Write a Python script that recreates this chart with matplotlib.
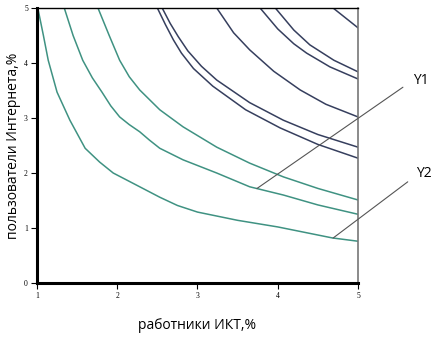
import numpy as np
import matplotlib.pyplot as plt

# curves (x = работники ИКТ, y = пользователи Интернета)
x1 = [1.01, 1.08, 1.14, 1.25, 1.41, 1.60, 1.78, 1.95, 2.28, 2.53, 2.75, 3.0, 3.5, 4.0, 4.68, 5.0]
y1 = [5.0, 4.5, 4.05, 3.47, 2.96, 2.45, 2.2, 2.0, 1.75, 1.56, 1.41, 1.29, 1.14, 1.02, 0.82, 0.76]
x2 = [1.34, 1.45, 1.57, 1.69, 1.81, 1.92, 2.03, 2.15, 2.28, 2.4, 2.53, 2.82, 3.24, 3.65, 4.07, 4.5, 5.0]
y2 = [5.0, 4.5, 4.05, 3.73, 3.47, 3.22, 3.02, 2.88, 2.75, 2.6, 2.45, 2.24, 2.0, 1.75, 1.6, 1.42, 1.25]
x3 = [1.76, 1.9, 2.03, 2.15, 2.28, 2.53, 2.82, 3.24, 3.65, 4.07, 4.5, 5.0]
y3 = [5.0, 4.5, 4.05, 3.75, 3.51, 3.15, 2.84, 2.47, 2.18, 1.93, 1.72, 1.51]
x4 = [2.50, 2.6, 2.7, 2.8, 2.95, 3.19, 3.6, 4.03, 4.5, 5.0]
y4 = [5.0, 4.7, 4.42, 4.18, 3.9, 3.58, 3.15, 2.82, 2.52, 2.27]
x5 = [2.56, 2.66, 2.76, 2.88, 3.05, 3.24, 3.65, 4.07, 4.5, 5.0]
y5 = [5.0, 4.72, 4.48, 4.22, 3.94, 3.69, 3.28, 2.96, 2.7, 2.47]
x6 = [3.24, 3.45, 3.65, 3.95, 4.28, 4.6, 5.0]
y6 = [5.0, 4.55, 4.24, 3.85, 3.51, 3.25, 3.02]
x7 = [3.78, 4.0, 4.2, 4.36, 4.65, 5.0]
y7 = [5.0, 4.62, 4.35, 4.18, 3.93, 3.71]
x8 = [3.97, 4.2, 4.4, 4.7, 5.0]
y8 = [5.0, 4.6, 4.33, 4.05, 3.84]
x9 = [4.69, 5.0]
y9 = [5.0, 4.64]

xticks = [1, 2, 3, 4, 5]
yticks = [0, 1, 2, 3, 4, 5]

teal = '#3f9282'
navy = '#363f5e'

fig = plt.figure(figsize=(4.43, 3.41), dpi=100)
ax = fig.add_axes([0.0835, 0.170, 0.7246, 0.8065])

for xs, ys in [(x1, y1), (x2, y2), (x3, y3)]:
    ax.plot(xs, ys, color=teal, lw=1.1)
for xs, ys in [(x4, y4), (x5, y5), (x6, y6), (x7, y7), (x8, y8), (x9, y9)]:
    ax.plot(xs, ys, color=navy, lw=1.1)

ax.set_xlim(1, 5)
ax.set_ylim(0, 5)
ax.set_xticks(xticks)
ax.set_yticks(yticks)
ax.tick_params(direction='out', length=4.5, width=0.8, pad=2,
               labelsize=5.5, labelfontfamily='Liberation Serif')

ax.spines['left'].set_linewidth(2.2)
ax.spines['bottom'].set_linewidth(2.2)
ax.spines['top'].set_linewidth(1.0)
ax.spines['right'].set_linewidth(1.2)
ax.spines['right'].set_color('#777777')

ax.set_xlabel('работники ИКТ,%', family='Open Sans', fontsize=10, labelpad=13)
ax.set_ylabel('пользователи Интернета,%', family='Open Sans', fontsize=10, labelpad=2)

# leader lines for the curve labels
y1_at = 3.74
y2_at = 4.69
p1 = (y1_at, np.interp(y1_at, x2, y2))
p2 = (y2_at, np.interp(y2_at, x1, y1))
ax.annotate('', xy=p1, xytext=(5.56, 3.56), annotation_clip=False,
            arrowprops=dict(arrowstyle='-', color='#555555', lw=0.8, shrinkA=0, shrinkB=0))
ax.annotate('', xy=p2, xytext=(5.62, 1.84), annotation_clip=False,
            arrowprops=dict(arrowstyle='-', color='#555555', lw=0.8, shrinkA=0, shrinkB=0))
ax.text(5.78, 3.69, 'Y1', family='Open Sans', fontsize=10, ha='center', va='center', clip_on=False)
ax.text(5.82, 2.0, 'Y2', family='Open Sans', fontsize=10, ha='center', va='center', clip_on=False)

fig.savefig('out.png', dpi=100)
